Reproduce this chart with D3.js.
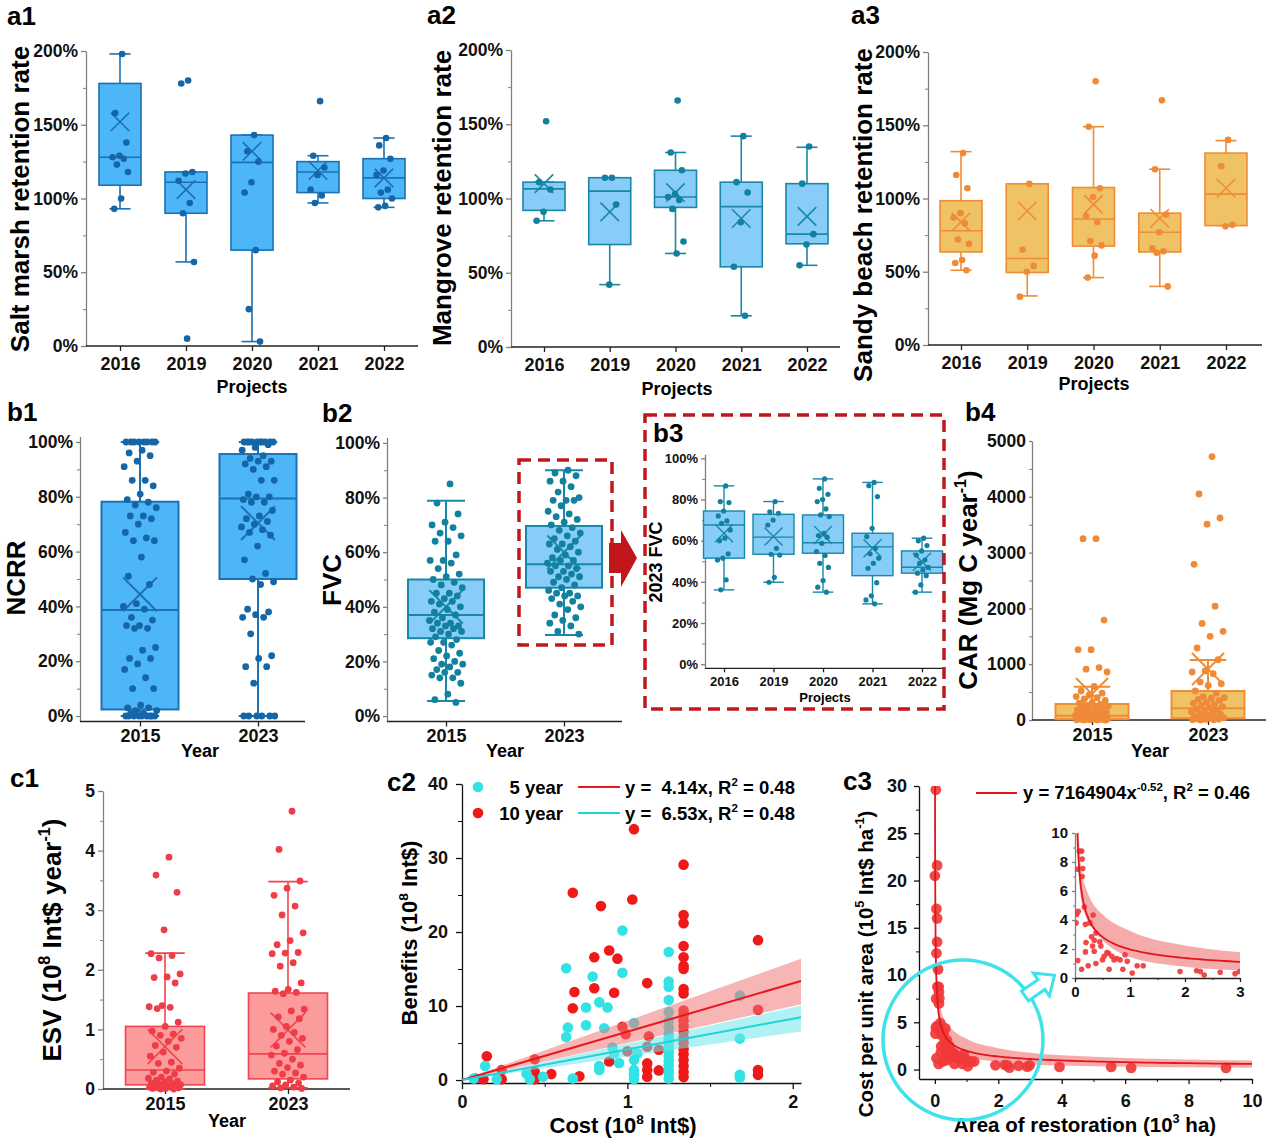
<!DOCTYPE html>
<html>
<head>
<meta charset="utf-8">
<script src="https://cdn.jsdelivr.net/npm/d3@7"></script>
<style>
body { margin: 0; background: #fff; }
text { font-family: "Liberation Sans", Arial, sans-serif; font-weight: bold; }
</style>
</head>
<body>
<div id="chart"></div>
<script>
// categories
const projectYears = ['2016', '2019', '2020', '2021', '2022'];
const surveyYears = ['2015', '2023'];

// box stats per category: [whisker low, Q1, median, Q3, whisker high, mean]
const a1Stats = [[93, 109, 128, 178, 198, 152], [57, 90, 111, 118, 118, 106], [3, 65, 124.5, 143, 143, 132], [97, 104, 118, 125, 129, 119], [94, 100, 114, 127, 141, 114]];
const a1Points = [
    [198, 158, 138, 129, 128, 127, 123, 118, 100, 93],
    [180, 178, 118, 117, 112, 97, 90, 57, 5],
    [143, 132, 125, 111, 104, 65, 25, 3],
    [166, 129, 121, 116, 106, 102, 97],
    [141, 136, 127, 119, 116, 106, 104, 100, 95, 94]
];
const a2Stats = [[85, 92, 106.5, 111, 111, 110], [42, 69, 105, 114, 114, 91], [63, 94, 101, 119, 131, 104], [21, 54, 94.5, 111, 142, 86.5], [55, 69.5, 76, 110, 134.5, 88]];
const a2Points = [
    [152, 111, 106, 91, 85],
    [114, 114, 96, 42],
    [166, 131, 119, 103, 101, 99, 93, 71, 63],
    [142, 111, 104, 84, 54, 21],
    [135, 110, 76, 69, 55]
];
const a3Stats = [[51, 63.5, 78, 98.5, 132, 84], [33.5, 49.5, 59, 110, 110, 91.5], [46, 67.5, 86, 107.5, 149, 96], [40, 63.5, 77, 90, 120, 86.5], [81.5, 81.5, 103, 131, 139.5, 107]];
const a3Points = [
    [131, 116, 107, 90, 87, 83, 72, 69, 58, 56, 51],
    [110, 65, 54, 50, 33],
    [180, 149, 107, 101, 88, 84, 71, 68, 61, 46],
    [167, 120, 89, 77, 66, 64, 63, 40],
    [140, 122, 82, 81]
];

const b1Stats = [[0, 2.4, 38.7, 78.2, 100, 44.4], [0, 50, 79.4, 95.6, 100, 70.4]];
const b1Points = [
    [100, 100, 100, 100, 100, 100, 100, 100, 97, 96, 95, 93, 91, 86, 86, 84, 81, 79, 78, 77, 76, 73, 73, 72, 70, 67, 65, 64, 64, 58, 51, 48, 41, 40, 39, 36, 35, 33, 33, 32, 32, 25, 24, 21, 21, 19, 17, 14, 10, 10, 4, 3, 3, 2, 2, 1, 1, 0, 0, 0, 0, 0, 0, 0, 0, 0],
    [100, 100, 100, 100, 100, 100, 100, 100, 100, 100, 99, 98, 97, 95, 94, 93, 93, 92, 91, 90, 86, 86, 81, 80, 80, 79, 78, 78, 75, 73, 72, 71, 70, 69, 68, 67, 66, 62, 57, 52, 50, 49, 48, 39, 38, 37, 36, 36, 30, 22, 21, 18, 18, 12, 0, 0, 0, 0, 0, 0]
];
const b2Stats = [[5.5, 28.5, 37, 50, 78.8, 40], [29.7, 47, 55.6, 69.6, 90, 60]];
const b2Points = [
    [85, 78, 74, 71, 70, 69, 67, 66, 64, 64, 59, 57, 57, 56, 54, 52, 51, 50, 49, 48, 47, 45, 45, 44, 43, 42, 42, 41, 40, 39, 38, 37, 36, 35, 34, 34, 33, 33, 32, 32, 31, 31, 30, 29, 28, 27, 27, 26, 24, 23, 22, 21, 20, 19, 19, 18, 17, 16, 16, 15, 14, 14, 12, 8, 6, 5],
    [90, 89, 88, 86, 86, 84, 82, 80, 79, 79, 79, 77, 75, 74, 73, 72, 71, 70, 69, 68, 67, 66, 65, 64, 63, 63, 62, 61, 60, 59, 58, 57, 57, 56, 55, 55, 54, 53, 53, 52, 51, 51, 50, 49, 48, 47, 46, 45, 45, 44, 44, 43, 42, 41, 40, 39, 37, 36, 35, 34, 33, 31, 30]
];
const b3Stats = [[36.1, 51.5, 67.6, 74.4, 86.6, 63.6], [39.8, 53.4, 61.7, 72.8, 79, 62], [35, 53.9, 59, 72.5, 90, 62.8], [29.3, 43, 57, 63.6, 88.3, 56.3], [35, 44.2, 47.1, 55, 61.2, 49.8]];
const b3Points = [
    [86.6, 79, 78.5, 74.4, 72, 69.6, 68.4, 65.2, 61.2, 60, 53.6, 51.5, 50.6, 41, 36.1],
    [79, 74, 73.3, 70, 67.6, 56.3, 53.4, 53, 42.2, 39.8],
    [90, 85.4, 82.5, 80, 79, 75.4, 72.5, 71.7, 63.6, 62.5, 61.7, 58.7, 54.7, 52.8, 49, 47, 40.6, 37.4, 35],
    [88.3, 86.7, 81.4, 66, 62, 56.3, 53.6, 51.5, 49, 46.6, 39.6, 33.2, 31.2, 29.3],
    [61.2, 59.9, 57.6, 55, 53, 50.6, 49, 47, 45.8, 44.2, 43, 38.5, 35]
];
const b4Stats = [[0, 15, 78, 286, 597, 465], [0, 30, 209, 519, 1074, 913]];
const b4Points = [
    [3250, 3250, 1790, 1260, 1260, 940, 910, 860, 600, 520, 480, 450, 420, 400, 380, 350, 320, 300, 280, 260, 250, 230, 220, 200, 190, 180, 160, 150, 140, 120, 110, 100, 90, 80, 70, 60, 50, 45, 40, 30, 25, 20, 15, 10, 8, 5, 3, 2, 1, 0],
    [4720, 4050, 3620, 3510, 2790, 2040, 1730, 1590, 1500, 1290, 1080, 880, 860, 830, 680, 650, 620, 520, 480, 420, 400, 390, 370, 350, 320, 300, 280, 260, 240, 220, 200, 180, 170, 150, 130, 120, 100, 80, 70, 60, 50, 40, 30, 20, 15, 10, 5, 3, 1]
];
const c1Stats = [[0, 0.07, 0.32, 1.05, 2.28, 0.71], [0.02, 0.17, 0.59, 1.61, 3.48, 0.99]];
const c1Points = [
    [3.89, 3.59, 3.3, 2.67, 2.27, 2.24, 2.2, 1.93, 1.88, 1.87, 1.78, 1.4, 1.38, 1.37, 1.35, 1.12, 1.05, 0.97, 0.92, 0.9, 0.85, 0.8, 0.73, 0.7, 0.62, 0.55, 0.45, 0.43, 0.35, 0.3, 0.28, 0.25, 0.2, 0.18, 0.17, 0.15, 0.13, 0.12, 0.1, 0.09, 0.08, 0.07, 0.06, 0.05, 0.05, 0.04, 0.03, 0.03, 0.02, 0.02, 0.01, 0.01, 0, 0],
    [4.66, 4.02, 3.49, 3.37, 3.25, 3.07, 2.92, 2.62, 2.49, 2.42, 2.29, 2.28, 2.27, 2.12, 2.06, 1.78, 1.67, 1.64, 1.62, 1.6, 1.34, 1.31, 1.21, 1.18, 1.05, 1.0, 0.95, 0.9, 0.85, 0.8, 0.72, 0.66, 0.6, 0.57, 0.5, 0.43, 0.4, 0.36, 0.3, 0.27, 0.25, 0.2, 0.15, 0.12, 0.1, 0.07, 0.05, 0.03, 0.02, 0.01]
];

// c2: cost vs benefits, [cost, benefit]
const fiveYear = [[0.07, 0.2], [0.14, 1.9], [0.21, 0.1], [0.39, 0.9], [0.41, 0.1], [0.49, 0.45], [0.63, 15.1], [0.64, 7.1], [0.63, 5.8], [0.67, 0.2], [0.75, 9.8], [0.75, 7.4], [0.79, 14.0], [0.83, 10.5], [0.88, 9.8], [0.86, 7.0], [0.83, 1.9], [0.83, 1.35], [0.91, 4.4], [0.92, 3.6], [0.95, 2.3], [0.97, 20.2], [0.97, 14.5], [1.04, 7.7], [1.06, 3.6], [1.04, 2.7], [1.04, 1.35], [1.04, 0.7], [1.04, 0.1], [1.25, 17.3], [1.25, 13.3], [1.25, 12.6], [1.25, 10.8], [1.25, 9.2], [1.25, 8.0], [1.25, 7.1], [1.25, 6.2], [1.25, 5.5], [1.25, 5.0], [1.25, 4.4], [1.25, 3.8], [1.25, 3.2], [1.25, 2.6], [1.25, 2.0], [1.25, 1.4], [1.25, 0.8], [1.25, 0.2], [1.68, 11.4], [1.68, 5.6], [1.68, 0.7], [1.68, 0.3]];
const tenYear = [[0.08, 0.2], [0.13, 0.1], [0.15, 3.2], [0.24, 1.35], [0.24, 0.1], [0.44, 2.8], [0.44, 1.1], [0.44, 0.1], [0.54, 0.8], [0.67, 25.3], [0.68, 11.9], [0.67, 9.7], [0.71, 0.5], [0.80, 16.6], [0.80, 12.4], [0.84, 23.5], [0.89, 17.5], [0.92, 11.8], [0.94, 16.4], [0.89, 2.5], [0.97, 7.2], [0.99, 6.2], [1.0, 3.9], [1.04, 33.9], [1.03, 24.4], [1.12, 13.1], [1.12, 2.25], [1.12, 1.35], [1.12, 0.45], [1.13, 5.9], [1.12, 4.5], [1.19, 4.1], [1.19, 1.3], [1.34, 29.1], [1.34, 22.3], [1.34, 21.2], [1.34, 18.1], [1.34, 16.6], [1.34, 15.4], [1.34, 15.0], [1.34, 12.3], [1.34, 11.7], [1.34, 9.4], [1.34, 8.8], [1.34, 8.0], [1.34, 7.3], [1.34, 6.5], [1.34, 5.7], [1.34, 5.0], [1.34, 4.2], [1.34, 3.5], [1.34, 2.7], [1.34, 1.9], [1.34, 1.1], [1.34, 0.4], [1.79, 18.9], [1.79, 9.5], [1.79, 1.35], [1.79, 0.7]];
// fitted slopes as drawn (red line, cyan line) and their band slopes [low, high]
const c2Slopes = [6.53, 4.14];
const c2BandSlopes = [[5.0, 8.0], [3.2, 4.9]];
const c2Legend = ['y =  4.14x, R', 'y =  6.53x, R'];

// c3: area (10^3 ha) vs cost per unit area (10^5 Int$/ha)
const areaCost = [[0.03, 29.6], [0.07, 21.6], [0.0, 20.5], [0.05, 17.0], [0.07, 16.0], [0.07, 13.5], [0.05, 12.3], [0.1, 10.6],
    [0.04, 7.5], [0.08, 8.75], [0.12, 8.75], [0.13, 8.2], [0.14, 7.55], [0.13, 7.0], [0.03, 4.4], [0.06, 4.6], [0.02, 3.8], [0.17, 4.9], [0.19, 3.7], [0.2, 2.45], [0.19, 1.8], [0.05, 1.2], [0.12, 0.6], [0.24, 0.85], [0.27, 3.8], [0.3, 2.85], [0.33, 4.35], [0.35, 2.6], [0.32, 2.2], [0.35, 1.85], [0.38, 1.0], [0.38, 3.1], [0.45, 2.5], [0.47, 2.2], [0.5, 1.25], [0.53, 1.5], [0.58, 1.75], [0.61, 1.7], [0.62, 0.6], [0.67, 1.5], [0.71, 1.25], [0.76, 1.35], [0.82, 1.25], [0.87, 0.6], [0.91, 1.6], [0.95, 1.15], [1.04, 0.35], [1.13, 0.85], [1.24, 0.85], [1.91, 0.45], [2.21, 0.5], [2.28, 0.45], [2.35, 0.2], [2.64, 0.4], [2.91, 0.3], [2.99, 0.45],
    [3.93, 0.28], [5.56, 0.28], [6.19, 0.18], [9.18, 0.18]];
const powerFit = [7164904, -0.52];
const c3BandX = [0.05, 0.1, 0.2, 0.3, 0.5, 1, 2, 3, 5, 7.5, 10];
const c3BandLo = [8.5, 5.7, 4.2, 3.5, 2.6, 1.45, 0.78, 0.53, 0.35, 0.25, 0.2];
const c3BandHi = [11.5, 8.0, 6.2, 5.3, 4.4, 3.25, 2.25, 1.78, 1.35, 1.1, 0.95];

const svg = d3.select('#chart').append('svg').attr('width', 1266).attr('height', 1142);

// spread points sideways without randomness
function jitter(i) {
    return ((i * 0.6180339887) % 1) * 2 - 1;
}

// text with superscript parts, sup parts given as ['8']
function rich(sel, parts, size) {
    let up = false;
    parts.forEach(p => {
        const isSup = Array.isArray(p);
        const t = sel.append('tspan').text(isSup ? p[0] : p);
        if (isSup) {
            t.attr('font-size', size * 0.62).attr('dy', up ? 0 : -size * 0.42);
            up = true;
        } else {
            if (up) t.attr('dy', size * 0.42);
            up = false;
        }
    });
    return sel;
}

function label(x, y, txt, size, anchor = 'start') {
    return svg.append('text').attr('x', x).attr('y', y).attr('font-size', size).attr('text-anchor', anchor).text(txt);
}

function yTitle(x, y, parts, size) {
    const t = svg.append('text').attr('transform', `translate(${x},${y}) rotate(-90)`)
        .attr('text-anchor', 'middle').attr('font-size', size);
    rich(t, parts, size);
}

function xTitle(x, y, parts, size) {
    const t = svg.append('text').attr('x', x).attr('y', y).attr('text-anchor', 'middle').attr('font-size', size);
    rich(t, parts, size);
}

function styleAxis(sel, fs, col) {
    sel.attr('font-family', null).attr('font-size', null);
    sel.select('.domain').attr('stroke', col).attr('stroke-width', 1.3);
    sel.selectAll('.tick line').attr('stroke', col).attr('stroke-width', 1.3);
    sel.selectAll('.tick text').attr('font-size', fs).attr('fill', '#111');
}

function boxPanel(o) {
    const g = svg.append('g');
    const x = d3.scalePoint().domain(o.cats).range(o.xr);
    const y = d3.scaleLinear().domain(o.yd).range(o.yr);
    const bw = o.bw;

    // left axis (gray) with minor ticks
    const ya = g.append('g').attr('transform', `translate(${o.ax},0)`)
        .call(d3.axisLeft(y).tickValues(o.ticks).tickFormat(o.fmt).tickSize(o.ytick).tickSizeOuter(0).tickPadding(o.ypad));
    styleAxis(ya, o.yfs, '#808080');
    const ym = g.append('g').attr('transform', `translate(${o.ax},0)`)
        .call(d3.axisLeft(y).tickValues(o.minor).tickFormat('').tickSize(3).tickSizeOuter(0));
    ym.select('.domain').remove();
    ym.selectAll('line').attr('stroke', '#808080');

    // bottom axis
    const yb = o.yr[0];
    g.append('line').attr('x1', o.ax).attr('x2', o.axr).attr('y1', yb).attr('y2', yb)
        .attr('stroke', '#222').attr('stroke-width', 1.3);
    const xa = g.append('g').attr('transform', `translate(0,${yb})`)
        .call(d3.axisBottom(x).tickSize(o.xtick).tickSizeOuter(0).tickPadding(o.xpad));
    xa.select('.domain').remove();
    styleAxis(xa, o.xfs, '#222');

    o.cats.forEach((c, i) => {
        const [lo, q1, med, q3, hi, mean] = o.stats[i];
        const cx = x(c);
        const cg = g.append('g').attr('stroke', o.stroke).attr('stroke-width', o.sw);
        cg.append('line').attr('x1', cx).attr('x2', cx).attr('y1', y(lo)).attr('y2', y(hi));
        [lo, hi].forEach(v => cg.append('line')
            .attr('x1', cx - bw / 4).attr('x2', cx + bw / 4).attr('y1', y(v)).attr('y2', y(v)));
        cg.append('rect').attr('x', cx - bw / 2).attr('width', bw)
            .attr('y', y(q3)).attr('height', y(q1) - y(q3)).attr('fill', o.fill);
        cg.append('line').attr('x1', cx - bw / 2).attr('x2', cx + bw / 2).attr('y1', y(med)).attr('y2', y(med));
        const m = bw * 0.22, my = y(mean);
        cg.append('line').attr('x1', cx - m).attr('x2', cx + m).attr('y1', my - m).attr('y2', my + m);
        cg.append('line').attr('x1', cx - m).attr('x2', cx + m).attr('y1', my + m).attr('y2', my - m);

        g.append('g').selectAll('circle')
            .data(o.points[i])
            .join('circle')
            .attr('cx', (d, j) => cx + jitter(j + 1) * o.jw)
            .attr('cy', d => y(d))
            .attr('r', o.r)
            .attr('fill', o.pc);
    });
}

const pct = d => d + '%';
const blue = { fill: '#4db6f8', stroke: '#1c70b4', pc: '#1466a8' };
const lblue = { fill: '#88cdf8', stroke: '#1888a8', pc: '#12819f' };
const sand = { fill: '#f0c266', stroke: '#f08c34', pc: '#ef8a38' };
const salmon = { fill: '#fc9b9b', stroke: '#f0444c', pc: '#f03c46' };

const aCommon = {
    cats: projectYears, yd: [0, 200], ticks: [0, 50, 100, 150, 200], minor: [25, 75, 125, 175], fmt: pct,
    ytick: 5, ypad: 3, yfs: 17.5, xtick: 5, xpad: 6, xfs: 18, bw: 42, sw: 1.6, r: 3.3, jw: 9
};
boxPanel(Object.assign({}, aCommon, blue, { xr: [120, 384], ax: 86, axr: 418, yr: [346, 51], stats: a1Stats, points: a1Points }));
boxPanel(Object.assign({}, aCommon, lblue, { xr: [544, 807], ax: 511, axr: 840, yr: [347, 50], stats: a2Stats, points: a2Points }));
boxPanel(Object.assign({}, aCommon, sand, { xr: [961, 1226], ax: 928, axr: 1262, yr: [345, 52], stats: a3Stats, points: a3Points }));

const bCommon = {
    cats: surveyYears, yd: [-2, 102], ticks: [0, 20, 40, 60, 80, 100], minor: [10, 30, 50, 70, 90], fmt: pct,
    ytick: 4, ypad: 3, yfs: 17.5, xtick: 5, xpad: 3, xfs: 18, bw: 77, sw: 2, r: 3.4, jw: 17
};
boxPanel(Object.assign({}, bCommon, blue, { xr: [140, 258], ax: 80, axr: 305, yr: [721.5, 436.5], stats: b1Stats, points: b1Points }));
boxPanel(Object.assign({}, bCommon, lblue, { xr: [446, 564], ax: 387, axr: 622, yr: [721.5, 437.5], bw: 76, stats: b2Stats, points: b2Points }));
boxPanel(Object.assign({}, bCommon, lblue, {
    cats: projectYears, xr: [724, 922], ax: 705, axr: 945, yr: [668.3, 454.2], bw: 41, sw: 1.4, r: 2.6, jw: 7,
    yfs: 13, xfs: 13, ytick: 4, xtick: 4, xpad: 4, stats: b3Stats, points: b3Points
}));
boxPanel(Object.assign({}, bCommon, sand, {
    yd: [0, 5000], ticks: [0, 1000, 2000, 3000, 4000, 5000], minor: [500, 1500, 2500, 3500, 4500], fmt: d => d,
    xr: [1092, 1208], ax: 1032, axr: 1266, yr: [720, 441], bw: 73, ytick: 3, stats: b4Stats, points: b4Points
}));
boxPanel(Object.assign({}, bCommon, salmon, {
    yd: [0, 5], ticks: [0, 1, 2, 3, 4, 5], minor: [0.5, 1.5, 2.5, 3.5, 4.5], fmt: d => d, ytick: 5,
    xr: [165, 288], ax: 103, axr: 350, yr: [1089, 791], bw: 79, sw: 1.6, stats: c1Stats, points: c1Points
}));

// ---------- c2 scatter ----------
const c2x = d3.scaleLinear().domain([0, 2.05]).range([462, 801]);
const c2y = d3.scaleLinear().domain([-0.4, 40]).range([1083, 784]);
const c2 = svg.append('g');
const c2ya = c2.append('g').attr('transform', 'translate(462,0)')
    .call(d3.axisLeft(c2y).tickValues([0, 10, 20, 30, 40]).tickSize(6).tickSizeOuter(0).tickPadding(8));
styleAxis(c2ya, 18, '#111');
c2.append('g').attr('transform', 'translate(462,0)')
    .call(d3.axisLeft(c2y).tickValues([5, 15, 25, 35]).tickFormat('').tickSize(4).tickSizeOuter(0))
    .call(s => s.select('.domain').remove()).selectAll('line').attr('stroke', '#111');
const c2xa = c2.append('g').attr('transform', 'translate(0,1083)')
    .call(d3.axisBottom(c2x).tickValues([0, 1, 2]).tickFormat(d3.format('d')).tickSize(6).tickSizeOuter(0).tickPadding(6));
styleAxis(c2xa, 18, '#111');
c2.append('g').attr('transform', 'translate(0,1083)')
    .call(d3.axisBottom(c2x).tickValues([0.5, 1.5]).tickFormat('').tickSize(4).tickSizeOuter(0))
    .call(s => s.select('.domain').remove()).selectAll('line').attr('stroke', '#111');

const cyanPt = '#33e2e4', redPt = '#f01818';
c2.append('g').selectAll('circle').data(tenYear).join('circle')
    .attr('cx', d => c2x(d[0])).attr('cy', d => c2y(d[1])).attr('r', 5.3).attr('fill', redPt);
c2.append('g').selectAll('circle').data(fiveYear).join('circle')
    .attr('cx', d => c2x(d[0])).attr('cy', d => c2y(d[1])).attr('r', 5.3).attr('fill', cyanPt);

const c2Colors = ['#e8181e', '#22d2da'];
const c2BandColors = ['#f07878', '#70e6ea'];
const xEnds = [0, 2.05];
c2BandSlopes.forEach((b, i) => {
    c2.append('path').datum(xEnds)
        .attr('d', d3.area().x(d => c2x(d)).y0(d => c2y(b[0] * d)).y1(d => c2y(b[1] * d)))
        .attr('fill', c2BandColors[i]).attr('opacity', 0.55);
});
c2Slopes.forEach((s, i) => {
    c2.append('path').datum(xEnds)
        .attr('d', d3.line().x(d => c2x(d)).y(d => c2y(s * d)))
        .attr('fill', 'none').attr('stroke', c2Colors[i]).attr('stroke-width', 2);
});

// legend
[['5 year', cyanPt], ['10 year', redPt]].forEach((d, i) => {
    const yy = 787 + i * 26;
    svg.append('circle').attr('cx', 478).attr('cy', yy).attr('r', 5.3).attr('fill', d[1]);
    label(563, yy + 6.5, d[0], 18.5, 'end');
    svg.append('line').attr('x1', 578).attr('x2', 620).attr('y1', yy).attr('y2', yy)
        .attr('stroke', c2Colors[i]).attr('stroke-width', 2);
    const t = svg.append('text').attr('x', 625).attr('y', yy + 6.5).attr('font-size', 18.5).style('white-space', 'pre');
    rich(t, [c2Legend[i], ['2'], ' = 0.48'], 18.5);
});

// ---------- c3 power fit ----------
const c3x = d3.scaleLinear().domain([-0.5, 10]).range([919, 1252]);
const c3y = d3.scaleLinear().domain([-1, 30]).range([1079, 786]);
const c3 = svg.append('g');
const c3ya = c3.append('g').attr('transform', 'translate(919,0)')
    .call(d3.axisLeft(c3y).tickValues([0, 5, 10, 15, 20, 25, 30]).tickSize(5).tickSizeOuter(0).tickPadding(7));
styleAxis(c3ya, 18, '#111');
c3.append('g').attr('transform', 'translate(919,0)')
    .call(d3.axisLeft(c3y).tickValues([2.5, 7.5, 12.5, 17.5, 22.5, 27.5]).tickFormat('').tickSize(3).tickSizeOuter(0))
    .call(s => s.select('.domain').remove()).selectAll('line').attr('stroke', '#111');
const c3xa = c3.append('g').attr('transform', 'translate(0,1079)')
    .call(d3.axisBottom(c3x).tickValues([0, 2, 4, 6, 8, 10]).tickSize(5).tickSizeOuter(0).tickPadding(10));
styleAxis(c3xa, 18, '#111');
c3.append('g').attr('transform', 'translate(0,1079)')
    .call(d3.axisBottom(c3x).tickValues([1, 3, 5, 7, 9]).tickFormat('').tickSize(3).tickSizeOuter(0))
    .call(s => s.select('.domain').remove()).selectAll('line').attr('stroke', '#111');

const fitY = x => powerFit[0] * Math.pow(x * 1000, powerFit[1]) / 1e5;
const fitXs = d3.range(0, 240).map(i => 0.005 * Math.pow(10 / 0.005, i / 239));
const band = c3BandX.map((x, i) => [x, c3BandLo[i], c3BandHi[i]]);

svg.append('clipPath').attr('id', 'c3clip').append('rect').attr('x', 919).attr('y', 786).attr('width', 333).attr('height', 293);
svg.append('clipPath').attr('id', 'inclip').append('rect').attr('x', 1075).attr('y', 833).attr('width', 165).attr('height', 145);

function fitLayer(g, sx, sy, pts, r, clip) {
    const layer = g.append('g').attr('clip-path', `url(#${clip})`);
    layer.append('path').datum(band)
        .attr('d', d3.area().curve(d3.curveMonotoneX).x(d => sx(d[0])).y0(d => sy(d[1])).y1(d => sy(d[2])))
        .attr('fill', '#f5a2a2').attr('opacity', 0.9);
    layer.append('g').selectAll('circle').data(pts).join('circle')
        .attr('cx', d => sx(d[0])).attr('cy', d => sy(d[1])).attr('r', r)
        .attr('fill', '#f03a3a').attr('opacity', 0.92);
    layer.append('path').datum(fitXs)
        .attr('d', d3.line().x(d => sx(d)).y(d => sy(fitY(d))))
        .attr('fill', 'none').attr('stroke', '#e4141c').attr('stroke-width', 1.8);
}
fitLayer(c3, c3x, c3y, areaCost, 5.4, 'c3clip');

// inset
const inx = d3.scaleLinear().domain([0, 3]).range([1075, 1240]);
const iny = d3.scaleLinear().domain([0, 10]).range([978, 833]);
const ins = svg.append('g');
const inya = ins.append('g').attr('transform', 'translate(1075,0)')
    .call(d3.axisLeft(iny).tickValues([0, 2, 4, 6, 8, 10]).tickSize(3).tickSizeOuter(0).tickPadding(4));
styleAxis(inya, 15, '#808080');
ins.append('g').attr('transform', 'translate(1075,0)')
    .call(d3.axisLeft(iny).tickValues([1, 3, 5, 7, 9]).tickFormat('').tickSize(2).tickSizeOuter(0))
    .call(s => s.select('.domain').remove()).selectAll('line').attr('stroke', '#808080');
const inxa = ins.append('g').attr('transform', 'translate(0,978)')
    .call(d3.axisBottom(inx).tickValues([0, 1, 2, 3]).tickFormat(d3.format('d')).tickSize(4).tickSizeOuter(0).tickPadding(4));
styleAxis(inxa, 15, '#222');
ins.append('g').attr('transform', 'translate(0,978)')
    .call(d3.axisBottom(inx).tickValues([0.5, 1.5, 2.5]).tickFormat('').tickSize(2).tickSizeOuter(0))
    .call(s => s.select('.domain').remove()).selectAll('line').attr('stroke', '#222');
fitLayer(ins, inx, iny, areaCost, 2.8, 'inclip');

// c3 legend
svg.append('line').attr('x1', 976).attr('x2', 1017).attr('y1', 793).attr('y2', 793).attr('stroke', '#e4141c').attr('stroke-width', 2);
rich(svg.append('text').attr('x', 1023).attr('y', 799).attr('font-size', 18.5),
    ['y = 7164904x', ['-0.52'], ', R', ['2'], ' = 0.46'], 18.5);

// ---------- titles ----------
yTitle(29, 199, ['Salt marsh retention rate'], 26);
yTitle(451, 198, ['Mangrove retention rate'], 26);
yTitle(872, 215, ['Sandy beach retention rate'], 26);
yTitle(25, 578, ['NCRR'], 26);
yTitle(341, 580, ['FVC'], 26);
yTitle(662, 562, ['2023 FVC'], 18);
yTitle(977, 580, ['CAR (Mg C year', ['-1'], ')'], 26);
yTitle(61, 940, ['ESV (10', ['8'], ' Int$ year', ['-1'], ')'], 26);
yTitle(417, 933, ['Benefits (10', ['8'], ' Int$)'], 22);
yTitle(873, 964, ['Cost per unit area (10', ['5'], ' Int$ ha', ['-1'], ')'], 20.5);

label(252, 393, 'Projects', 18, 'middle');
label(677, 395, 'Projects', 18, 'middle');
label(1094, 390, 'Projects', 18, 'middle');
label(200, 757, 'Year', 18, 'middle');
label(505, 757, 'Year', 18, 'middle');
label(825, 702, 'Projects', 13, 'middle');
label(1150, 757, 'Year', 18, 'middle');
label(227, 1127, 'Year', 18, 'middle');
xTitle(623, 1133, ['Cost (10', ['8'], ' Int$)'], 22);
xTitle(1085, 1132, ['Area of restoration (10', ['3'], ' ha)'], 20.5);

[['a1', 7, 25], ['a2', 427, 24], ['a3', 851, 24], ['b1', 7, 421], ['b2', 322, 422], ['b3', 653, 442],
    ['b4', 965, 421], ['c1', 10, 787], ['c2', 387, 791], ['c3', 843, 790]]
    .forEach(d => label(d[1], d[2], d[0], 26));

// ---------- callouts ----------
const darkRed = '#c0161c';
svg.append('rect').attr('x', 519).attr('y', 460).attr('width', 93).attr('height', 185)
    .attr('fill', 'none').attr('stroke', darkRed).attr('stroke-width', 3.5).attr('stroke-dasharray', '12 7');
svg.append('rect').attr('x', 645).attr('y', 415).attr('width', 299).attr('height', 294)
    .attr('fill', 'none').attr('stroke', darkRed).attr('stroke-width', 3.5).attr('stroke-dasharray', '12 7');
svg.append('polygon')
    .attr('points', [[609, 543], [621, 543], [621, 530], [637, 558], [621, 587], [621, 573], [609, 573]].join(' '))
    .attr('fill', darkRed);

const cyan = '#3ee2ea';
svg.append('circle').attr('cx', 963).attr('cy', 1040).attr('r', 80)
    .attr('fill', 'none').attr('stroke', cyan).attr('stroke-width', 3.5);
svg.append('polygon')
    .attr('points', [[0, -6], [20, -6], [20, -14], [36, 0], [20, 14], [20, 6], [0, 6]].join(' '))
    .attr('transform', 'translate(1025,996) rotate(-35)')
    .attr('fill', '#fff').attr('stroke', cyan).attr('stroke-width', 3).attr('stroke-linejoin', 'miter');
</script>
</body>
</html>
